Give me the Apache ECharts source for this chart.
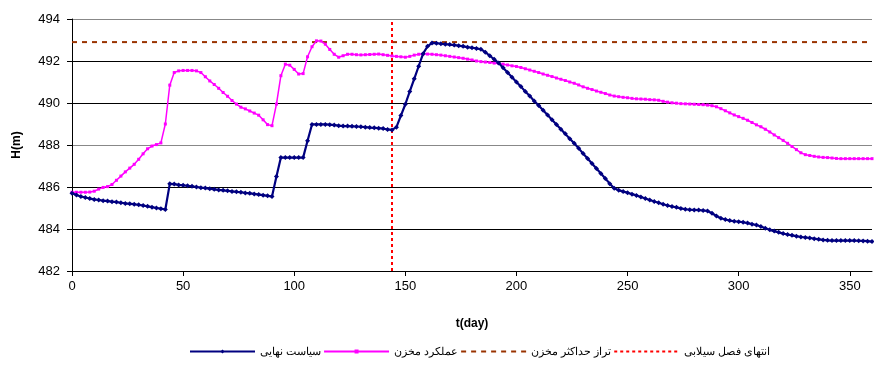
<!DOCTYPE html>
<html>
<head>
<meta charset="utf-8">
<script src="https://cdn.jsdelivr.net/npm/echarts@6/dist/echarts.min.js"></script>
<style>html,body{margin:0;padding:0;background:#fff}#c{width:874px;height:371px}</style>
</head>
<body>
<div id="c"></div>
<script>
const legendNames = ['سیاست نهایی', 'عملکرد مخزن', 'تراز حداکثر مخزن', 'انتهای فصل سیلابی'];
const xTitle = 't(day)';
const yTitle = 'H(m)';

const days = [0,2,4,6,8,10,12,14,16,18,20,22,24,26,28,30,32,34,36,38,40,42,44,46,48,50,52,54,56,58,60,62,64,66,68,70,72,74,76,78,80,82,84,86,88,90,92,94,96,98,100,102,104,106,108,110,112,114,116,118,120,122,124,126,128,130,132,134,136,138,140,142,144,146,148,150,152,154,156,158,160,162,164,166,168,170,172,174,176,178,180,182,184,186,188,190,192,194,196,198,200,202,204,206,208,210,212,214,216,218,220,222,224,226,228,230,232,234,236,238,240,242,244,246,248,250,252,254,256,258,260,262,264,266,268,270,272,274,276,278,280,282,284,286,288,290,292,294,296,298,300,302,304,306,308,310,312,314,316,318,320,322,324,326,328,330,332,334,336,338,340,342,344,346,348,350,352,354,356,358,360];

const finalPolicy = [
485.70,485.62,485.55,485.50,485.45,485.41,485.38,485.35,485.33,485.30,
485.28,485.25,485.22,485.20,485.18,485.15,485.12,485.08,485.04,485.00,
484.97,484.93,486.15,486.14,486.10,486.08,486.06,486.03,486.00,485.97,
485.95,485.92,485.89,485.86,485.84,485.82,485.79,485.77,485.75,485.72,
485.70,485.67,485.64,485.61,485.58,485.55,486.50,487.40,487.40,487.40,
487.40,487.40,487.40,488.20,488.98,488.98,488.98,488.98,488.97,488.95,
488.92,488.90,488.90,488.89,488.88,488.87,488.85,488.83,488.82,488.80,
488.78,488.74,488.72,488.85,489.40,489.94,490.55,491.15,491.75,492.35,
492.70,492.86,492.85,492.82,492.80,492.78,492.76,492.73,492.70,492.66,
492.63,492.60,492.56,492.42,492.25,492.08,491.90,491.68,491.45,491.23,
491.00,490.78,490.55,490.33,490.10,489.88,489.65,489.43,489.20,488.98,
488.75,488.53,488.30,488.08,487.84,487.60,487.36,487.12,486.88,486.64,
486.40,486.16,485.94,485.85,485.78,485.73,485.66,485.60,485.52,485.45,
485.38,485.31,485.25,485.18,485.12,485.07,485.03,484.98,484.94,484.92,
484.91,484.90,484.88,484.86,484.75,484.62,484.51,484.45,484.40,484.37,
484.35,484.32,484.28,484.23,484.19,484.12,484.04,483.96,483.90,483.84,
483.78,483.74,483.70,483.66,483.62,483.60,483.57,483.54,483.51,483.48,
483.46,483.45,483.45,483.45,483.45,483.45,483.45,483.44,483.43,483.42,
483.40];

const reservoirOp = [
485.75,485.75,485.75,485.75,485.76,485.80,485.90,485.98,486.02,486.12,
486.32,486.52,486.72,486.90,487.08,487.32,487.58,487.82,487.95,488.02,
488.10,489.00,490.85,491.45,491.53,491.55,491.55,491.55,491.53,491.45,
491.25,491.05,490.88,490.70,490.50,490.32,490.12,489.95,489.80,489.72,
489.62,489.52,489.42,489.20,488.97,488.92,489.95,491.30,491.85,491.80,
491.60,491.38,491.40,492.20,492.68,492.96,492.95,492.80,492.55,492.32,
492.18,492.25,492.32,492.32,492.30,492.29,492.30,492.31,492.32,492.33,
492.30,492.27,492.24,492.22,492.20,492.18,492.22,492.28,492.32,492.33,
492.33,492.32,492.30,492.28,492.25,492.22,492.19,492.16,492.13,492.09,
492.05,492.00,491.97,491.95,491.93,491.90,491.88,491.85,491.81,491.77,
491.74,491.69,491.63,491.57,491.51,491.45,491.38,491.32,491.26,491.19,
491.13,491.07,491.00,490.94,490.86,490.77,490.70,490.64,490.57,490.51,
490.45,490.38,490.33,490.30,490.27,490.25,490.22,490.20,490.19,490.18,
490.16,490.15,490.13,490.08,490.04,490.01,489.99,489.97,489.96,489.95,
489.94,489.93,489.92,489.90,489.87,489.82,489.73,489.63,489.53,489.43,
489.35,489.27,489.18,489.07,488.96,488.87,488.75,488.62,488.48,488.35,
488.22,488.08,487.93,487.78,487.63,487.54,487.50,487.46,487.43,487.41,
487.40,487.38,487.36,487.35,487.35,487.35,487.35,487.35,487.35,487.35,
487.35];

const maxLevel = 492.9;
const floodEndDay = 144;
const xMin = 0, xMax = 360, xStep = 50;
const yMin = 482, yMax = 494, yStep = 2;

const pairs = (xs, ys) => xs.map((x, i) => [x, ys[i]]);

const chart = echarts.init(document.getElementById('c'), null, {renderer: 'canvas'});
const font = 'Liberation Sans, Arial, sans-serif';
chart.setOption({
  animation: false,
  backgroundColor: '#fff',
  grid: {left: 72, right: 2, top: 19, bottom: 100, containLabel: false},
  xAxis: {
    type: 'value', min: xMin, max: xMax, interval: xStep,
    name: xTitle, nameLocation: 'middle', nameGap: 47,
    nameTextStyle: {fontFamily: font, fontSize: 12, fontWeight: 'bold', color: '#000'},
    axisLine: {lineStyle: {color: '#000', width: 1}},
    axisTick: {show: true, length: 5, lineStyle: {color: '#000'}},
    axisLabel: {fontFamily: font, fontSize: 13, color: '#000', margin: 9, showMaxLabel: false},
    splitLine: {show: false}
  },
  yAxis: {
    type: 'value', min: yMin, max: yMax, interval: yStep,
    name: yTitle, nameLocation: 'middle', nameGap: 49, nameRotate: 90,
    nameTextStyle: {fontFamily: font, fontSize: 12, fontWeight: 'bold', color: '#000'},
    axisLine: {show: true, lineStyle: {color: '#000', width: 1}},
    axisTick: {show: true, length: 5, lineStyle: {color: '#000'}},
    axisLabel: {fontFamily: font, fontSize: 13, color: '#000', margin: 12},
    splitLine: {show: true, lineStyle: {color: ['#000','#000','#000','#888','#000','#000','#888'], width: 1}}
  },
  legend: {
    top: 341, left: 184,
    itemWidth: 65, itemHeight: 5, itemGap: 2,
    textStyle: {fontFamily: font, fontSize: 11, color: '#000'},
    data: legendNames
  },
  series: [
    {
      name: legendNames[0], type: 'line', data: pairs(days, finalPolicy),
      symbol: 'diamond', symbolSize: 5, showSymbol: true,
      lineStyle: {color: '#000080', width: 2.2}, itemStyle: {color: '#000080'}, z: 4
    },
    {
      name: legendNames[1], type: 'line', data: pairs(days, reservoirOp),
      symbol: 'rect', symbolSize: 3, showSymbol: true,
      lineStyle: {color: '#FF00FF', width: 1.5}, itemStyle: {color: '#FF00FF'}, z: 3
    },
    {
      name: legendNames[2], type: 'line', data: [[xMin, maxLevel], [xMax, maxLevel]],
      symbol: 'none', lineStyle: {color: '#993300', width: 2, type: [5, 5]},
      itemStyle: {color: '#993300', opacity: 0}, z: 2
    },
    {
      name: legendNames[3], type: 'line', data: [[floodEndDay, yMin], [floodEndDay, yMax]],
      symbol: 'none', lineStyle: {color: '#FF0000', width: 2, type: [3, 3]},
      itemStyle: {color: '#FF0000', opacity: 0}, z: 2
    }
  ]
});
</script>
</body>
</html>
